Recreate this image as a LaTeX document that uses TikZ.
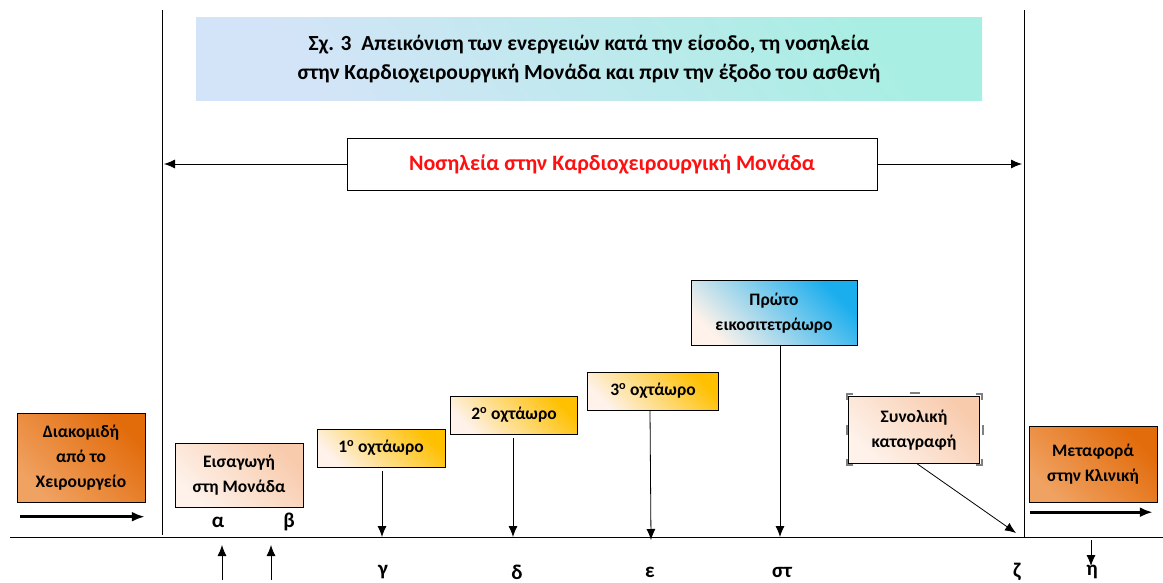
\documentclass[tikz,border=0pt]{standalone}
\usepackage{fontspec}
\setmainfont{Carlito}
\usetikzlibrary{positioning,arrows.meta,calc}

\definecolor{darkor}{HTML}{E26B0A}
\definecolor{lightor}{HTML}{F0A262}
\definecolor{peachlt}{HTML}{FEF2EA}
\definecolor{peachdk}{HTML}{F8CBAD}
\definecolor{goldy}{HTML}{FFC000}
\definecolor{skyb}{HTML}{1AAEEE}
\definecolor{titlea}{HTML}{D4E4F8}
\definecolor{titleb}{HTML}{A9EEE3}
\definecolor{redtxt}{HTML}{FF1010}

\begin{document}
\begin{tikzpicture}[
  x=1pt, y=-1pt,
  box/.style={draw, rectangle, align=center, inner sep=1pt, font=\bfseries\fontsize{17.5}{25}\selectfont},
  darkbox/.style={box, minimum width=128pt, left color=lightor, right color=darkor, shading angle=135},
  peachbox/.style={box, minimum width=128pt, left color=peachlt, right color=peachdk, shading angle=135},
  shiftbox/.style={box, minimum width=128pt, minimum height=38pt, left color=peachlt, right color=goldy, shading angle=135},
  bluebox/.style={box, minimum width=166pt, minimum height=65pt, left color=peachlt, right color=skyb, shading angle=135},
  letter/.style={font=\bfseries\fontsize{21}{24}\selectfont},
  arrow/.style={-{Latex[length=11pt,width=9pt]}, thick},
  bigarrow/.style={-{Latex[length=13pt,width=10pt]}, line width=2.6pt},
  handle/.style={gray, line width=1.6pt}
]
\useasboundingbox (0,0) rectangle (1163,583);

% Frame of the unit
\draw (162,10) -- (162,535);
\draw (1024,10) -- (1024,538);
\draw (10,537) -- (1163,537);

% Title
\node[rectangle, minimum width=786pt, minimum height=83pt, left color=titlea, right color=titleb, shading angle=125,
  align=center, font=\bfseries\fontsize{21.5}{29}\selectfont] (title) at (589,59)
  {Σχ. 3\ \ Απεικόνιση των ενεργειών κατά την είσοδο, τη νοσηλεία\\στην Καρδιοχειρουργική Μονάδα και πριν την έξοδο του ασθενή};

% Stay in the unit
\node[box, fill=white, minimum width=530pt, minimum height=52pt, text=redtxt, font=\bfseries\fontsize{22}{26}\selectfont] (stay) at (612,164)
  {Νοσηλεία στην Καρδιοχειρουργική Μονάδα};
\coordinate (wallL) at (164,164);
\coordinate (wallR) at (1022,164);
\draw[arrow] (stay.west) -- (wallL);
\draw[arrow] (stay.east) -- (wallR);

% Steps
\node[darkbox, minimum height=89pt] (transfer) at (81,458) {Διακομιδή\\από το\\Χειρουργείο};
\node[peachbox, minimum height=64pt] (entry) at (239,475) {Εισαγωγή\\στη Μονάδα};
\node[shiftbox] (shift1) at (381,448) {1\textsuperscript{ο} οχτάωρο};
\node[shiftbox, minimum width=127pt] (shift2) at (514,415) {2\textsuperscript{ο} οχτάωρο};
\node[shiftbox, minimum width=131pt] (shift3) at (653,391) {3\textsuperscript{ο} οχτάωρο};
\node[bluebox] (day1) at (774,313) {Πρώτο\\εικοσιτετράωρο};
\node[peachbox, minimum width=131pt, minimum height=67pt] (record) at (914,430) {Συνολική\\καταγραφή};
\node[darkbox, minimum height=76pt] (ward) at (1093,464) {Μεταφορά\\στην Κλινική};

% Selection handles round the record box
\foreach \cx/\cy/\dx/\dy in {847/394/1/1, 982/394/-1/1, 847/465/1/-1, 982/465/-1/-1}
  \draw[handle] (\cx+6*\dx,\cy) -- (\cx,\cy) -- (\cx,\cy+6*\dy);
\draw[handle] (910,393) -- (920,393);
\draw[handle] (847,425) -- (847,435);
\draw[handle] (983,425) -- (983,435);

% Points on the time line
\node[letter] (a) at (218,522) {α};
\node[letter] (b) at (289,522) {β};
\node[letter] (c) at (383,572) {γ};
\node[letter] (d) at (517,572) {δ};
\node[letter] (e) at (650,572) {ε};
\node[letter] (st) at (782,572) {στ};
\node[letter] (z) at (1017,572) {ζ};
\node[letter] (h) at (1092,572) {η};

\coordinate (pc) at (382,537);
\coordinate (pd) at (513,537);
\coordinate (pe) at (651,540);
\coordinate (pst) at (780,537);
\coordinate (pz) at (1016,533);
\coordinate (ph) at (1091,566);

% Arrows
\draw[arrow] ([xshift=1pt]shift1.south) ++(0,4) -- (pc);
\draw[arrow] ([xshift=-1pt]shift2.south) ++(0,4) -- (pd);
\draw[arrow] ([xshift=-3pt]shift3.south) -- (pe);
\draw[arrow] ([xshift=6pt]day1.south) -- (pst);
\draw[arrow] ([xshift=3pt]record.south) -- (pz);
\draw[arrow] (1091,540) -- (ph);

\coordinate (upa) at (222,545);
\coordinate (upb) at (271,545);
\draw[arrow] (222,580) -- (upa);
\draw[arrow] (271,580) -- (upb);

\draw[bigarrow] ([yshift=-14pt]transfer.south west) ++(3,0) -- ++(125,0);
\draw[bigarrow] ([yshift=-10pt]ward.south west) ++(1,0) -- ++(123,0);

\end{tikzpicture}
\end{document}
